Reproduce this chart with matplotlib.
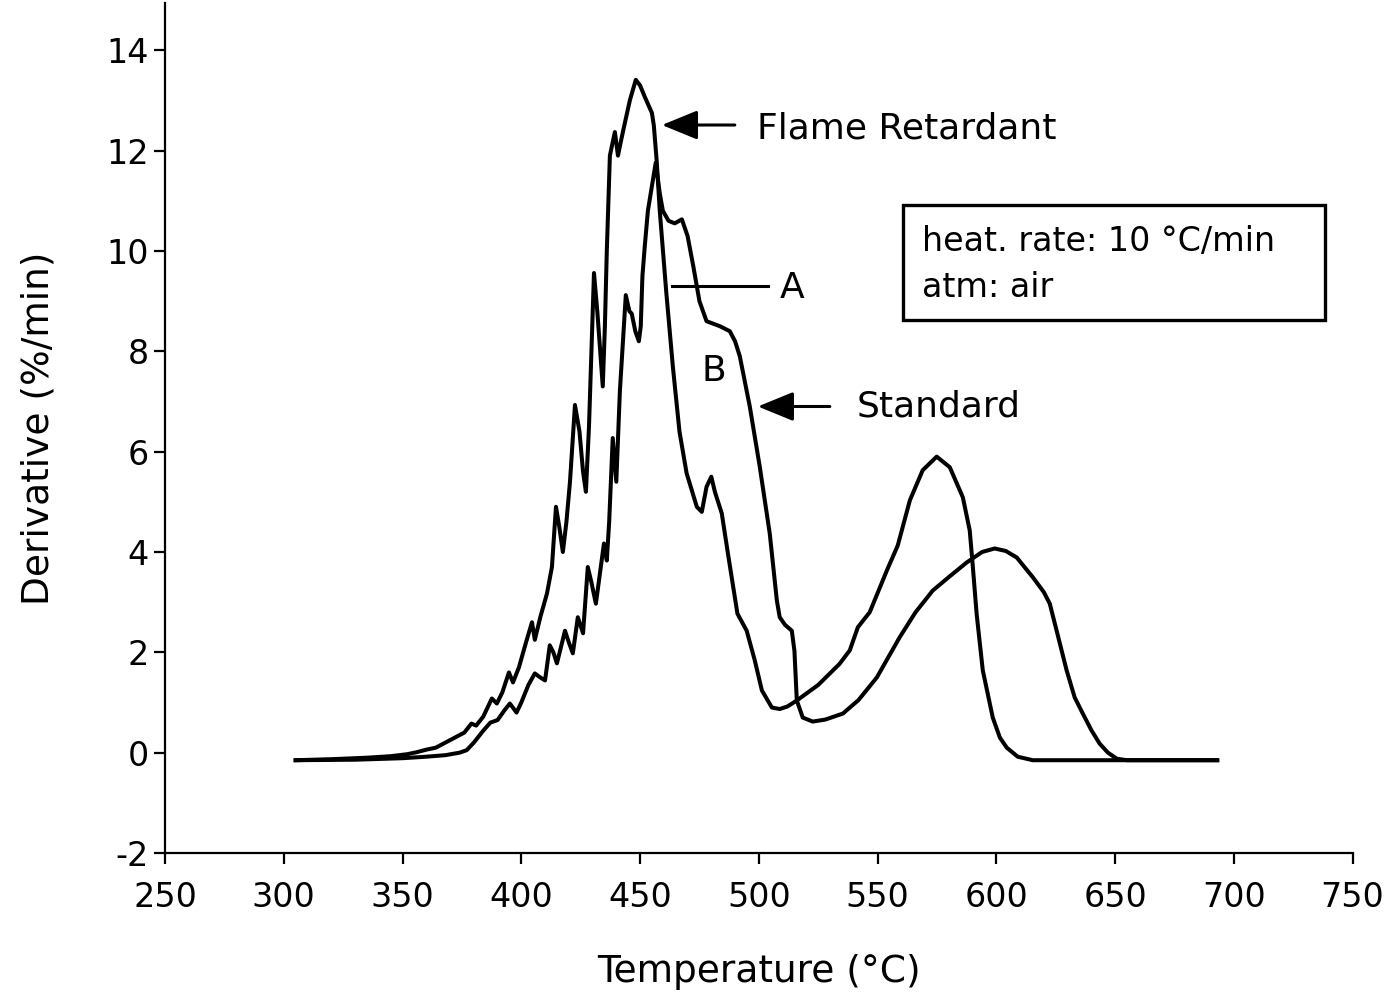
import matplotlib
matplotlib.use("Agg")
import matplotlib.pyplot as plt
from matplotlib.patches import Rectangle

# flame retardant sample, temperature (C) / derivative (%/min)
fr_temp = [305, 320, 335, 345, 352, 356, 360, 364, 368, 372, 376, 379, 381, 384,
           387.6, 389.7, 392, 394.8, 396.5, 399, 402, 404.5, 405.7, 408, 410.8,
           412.9, 414.6, 416, 417.5, 419, 420.5, 422.6, 424.5, 426, 427.2, 428.5,
           430.6, 432, 434.3, 435.2, 436, 437.3, 439.4, 440.7, 442, 443.6, 445.7,
           448.2, 450, 452, 455, 455.8, 457, 458.3, 461, 463.8, 466.6, 469.6,
           473.9, 476, 478, 480, 481.5, 484.4, 487, 491, 494.9, 498.3, 501.3,
           505.5, 508.8, 512, 516, 525, 534, 538.3, 541.7, 546.7, 553.9, 558.5,
           563.6, 569, 574.9, 580.4, 585.9, 588.8, 590, 591.7, 594.3, 598.5,
           601.5, 604.4, 609, 615.3, 693]
fr_deriv = [-0.15, -0.13, -0.1, -0.07, -0.03, 0.01, 0.06, 0.1, 0.2, 0.3, 0.4,
            0.58, 0.54, 0.72, 1.08, 0.98, 1.2, 1.6, 1.4, 1.7, 2.2, 2.6, 2.25, 2.7,
            3.17, 3.7, 4.9, 4.5, 4.0, 4.6, 5.4, 6.93, 6.4, 5.6, 5.2, 6.5, 9.56, 8.8,
            7.3, 8.5, 10.0, 11.9, 12.37, 11.9, 12.2, 12.55, 13.0, 13.41, 13.3,
            13.07, 12.75, 12.5, 11.8, 10.8, 9.2, 7.7, 6.4, 5.57, 4.9, 4.8, 5.3, 5.5,
            5.2, 4.77, 3.97, 2.77, 2.43, 1.84, 1.24, 0.9, 0.87, 0.92, 1.04, 1.35,
            1.77, 2.04, 2.5, 2.8, 3.63, 4.13, 5.03, 5.63, 5.9, 5.69, 5.09, 4.43,
            3.77, 2.77, 1.64, 0.7, 0.3, 0.1, -0.08, -0.15, -0.15]

# standard sample
std_temp = [305, 330, 350, 360, 368, 374, 377, 380, 384, 387, 390, 393, 395.2,
            398, 400, 403, 405.7, 408, 410, 412, 413.5, 415, 418.4, 420, 421.7,
            423.8, 426, 428, 429.5, 431.4, 434.8, 436, 437, 438.5, 440, 441.5, 444,
            445.5, 446.5, 448, 449.5, 450.3, 451, 452, 453.3, 456.6, 458.3, 459.6,
            462, 464.6, 467.6, 470, 472.4, 475, 478, 483.6, 487.8, 490, 492, 496.2,
            500.4, 504.6, 507.6, 508.8, 511, 513.9, 515, 516, 518.5, 522.7, 528,
            535.4, 542, 549.7, 559.3, 566, 573.2, 580, 587.5, 594, 599.3, 604,
            608.6, 615.3, 620, 622.5, 625.4, 629.6, 633, 636.4, 640, 643.5, 647,
            650.7, 655, 693]
std_deriv = [-0.15, -0.14, -0.11, -0.08, -0.05, 0.0, 0.05, 0.2, 0.44, 0.6, 0.65,
             0.85, 0.98, 0.8, 1.0, 1.35, 1.58, 1.5, 1.44, 2.14, 2.0, 1.78, 2.43,
             2.2, 1.98, 2.7, 2.38, 3.7, 3.4, 2.97, 4.17, 3.83, 4.6, 6.27, 5.4, 7.2,
             9.12, 8.8, 8.75, 8.4, 8.2, 8.5, 9.5, 10.1, 10.8, 11.76, 11.15, 10.8,
             10.6, 10.55, 10.63, 10.3, 9.7, 9.0, 8.6, 8.5, 8.4, 8.2, 7.9, 6.9, 5.7,
             4.37, 3.03, 2.7, 2.55, 2.43, 2.03, 1.04, 0.7, 0.62, 0.66, 0.78, 1.05,
             1.5, 2.3, 2.8, 3.23, 3.5, 3.79, 4.0, 4.07, 4.02, 3.89, 3.5, 3.2, 2.97,
             2.43, 1.64, 1.1, 0.78, 0.45, 0.18, 0.0, -0.12, -0.15, -0.15]

x_ticks = [250, 300, 350, 400, 450, 500, 550, 600, 650, 700, 750]
y_ticks = [-2, 0, 2, 4, 6, 8, 10, 12, 14]

plt.rcParams['font.family'] = ['DejaVu Sans']
plt.rcParams['axes.unicode_minus'] = False

fig = plt.figure(figsize=(13.89, 9.97), dpi=100)
ax = fig.add_axes([0.1188, 0.1444, 0.855, 0.853])

lw = 2.9
ax.plot(fr_temp, fr_deriv, color='black', lw=lw, solid_joinstyle='round')
ax.plot(std_temp, std_deriv, color='black', lw=lw, solid_joinstyle='round')

ax.set_xlim(250, 750)
ax.set_ylim(-2, 14.95)
ax.set_xticks(x_ticks)
ax.set_yticks(y_ticks)
ax.tick_params(labelsize=24, width=1.6, length=8, direction='out')
ax.tick_params(axis='x', pad=12)
ax.spines['top'].set_visible(False)
ax.spines['right'].set_visible(False)
ax.spines['left'].set_linewidth(1.6)
ax.spines['bottom'].set_linewidth(1.6)

ax.set_xlabel('Temperature (°C)', fontsize=27, labelpad=29)
ax.set_ylabel('Derivative (%/min)', fontsize=27, labelpad=36)

arrow = dict(arrowstyle='-|>,head_length=1.1,head_width=0.45', color='black',
             lw=2.2, mutation_scale=20, shrinkA=0, shrinkB=0)
ax.annotate('', xy=(459.2, 12.51), xytext=(489.9, 12.51), arrowprops=arrow)
ax.text(499.2, 12.45, 'Flame Retardant', fontsize=26, va='center', ha='left')

ax.plot([463.4, 503.8], [9.3, 9.3], color='black', lw=2.2)
ax.text(508.8, 9.26, 'A', fontsize=26, va='center', ha='left')
ax.text(481.1, 7.6, 'B', fontsize=26, va='center', ha='center')

ax.annotate('', xy=(499.6, 6.9), xytext=(529.9, 6.9), arrowprops=arrow)
ax.text(541.2, 6.9, 'Standard', fontsize=26, va='center', ha='left')

ax.add_patch(Rectangle((560.6, 8.62), 177.6, 2.3, fill=False, lw=2.4,
                       edgecolor='black', clip_on=False))
ax.text(568.6, 10.18, 'heat. rate: 10 °C/min', fontsize=24, va='center', ha='left')
ax.text(568.6, 9.28, 'atm: air', fontsize=24, va='center', ha='left')

fig.savefig('out.png', dpi=100)
